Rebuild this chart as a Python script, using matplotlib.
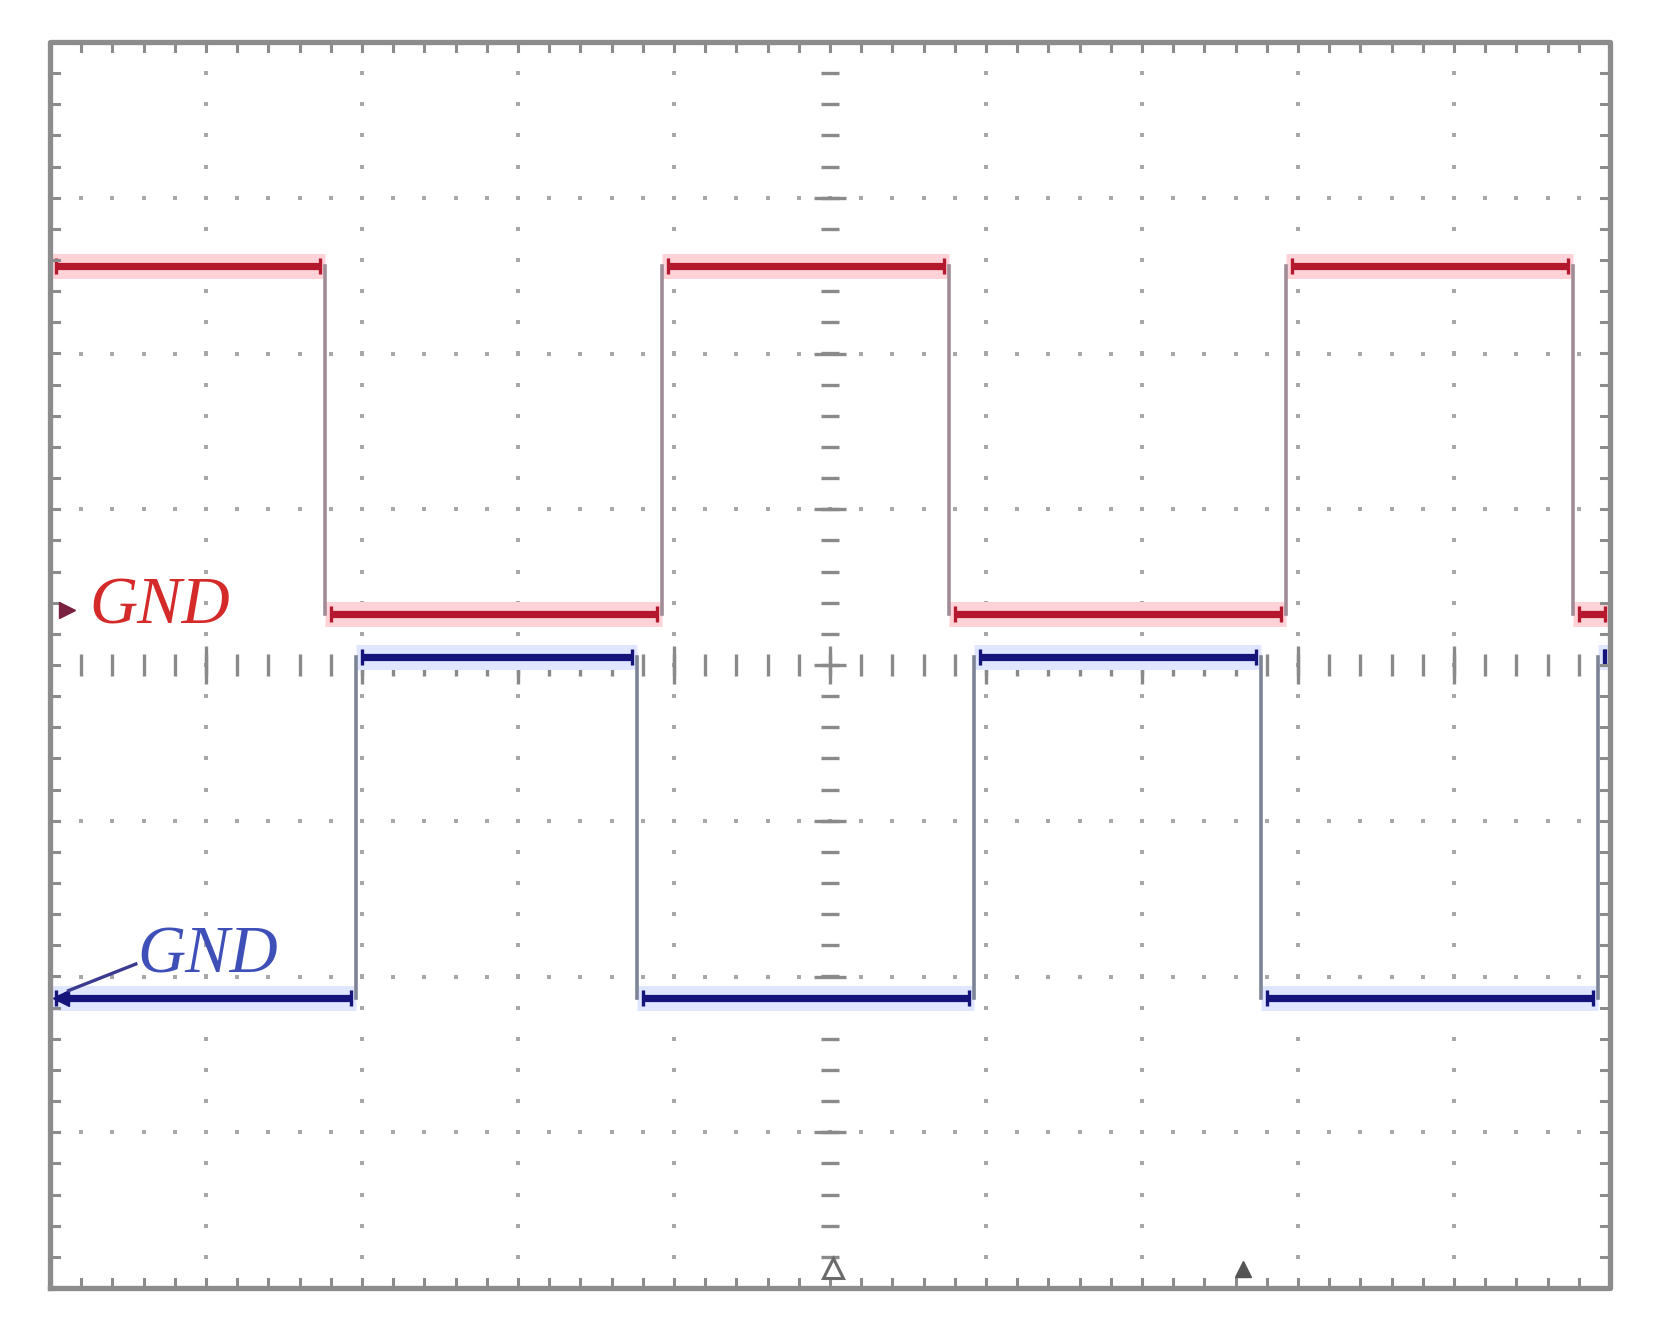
import numpy as np
import matplotlib
matplotlib.use("Agg")
import matplotlib.pyplot as plt

# ---- data (in screen divisions) ----
red_edges = [1.76, 3.92, 5.76, 7.92, 9.76]
red_levels = [2.56, 0.33]          # high, low
red_start_high = True
blue_edges = [1.96, 3.76, 5.92, 7.76, 9.92]
blue_levels = [0.05, -2.14]        # high, low
blue_start_high = False
gnd_labels = ["GND", "GND"]

X0, X1, Y0, Y1 = 0.0, 10.0, -4.0, 4.0

W, H = 1662, 1334
fig = plt.figure(figsize=(W / 100, H / 100), dpi=100)
fig.patch.set_facecolor("white")
ax = fig.add_axes([50 / W, (H - 1288) / H, 1560 / W, 1246 / H])
ax.set_xlim(X0, X1)
ax.set_ylim(Y0, Y1)
ax.axis("off")

grid_c = "#a8a8a8"
minor = np.arange(0, 10.001, 0.2)
minor_y = np.arange(-4, 4.001, 0.2)

# dotted grid
for gx in range(1, 10):
    if gx == 5:
        continue
    ax.scatter(np.full(minor_y.size, gx), minor_y, s=11, marker="s", color=grid_c, lw=0, zorder=1)
for gy in range(-3, 4):
    if gy == 0:
        continue
    ax.scatter(minor, np.full(minor.size, gy), s=11, marker="s", color=grid_c, lw=0, zorder=1)

# centre cross with ticks
for yy in minor_y:
    ax.plot([4.94, 5.06], [yy, yy], color="#8a8a8a", lw=2.4, solid_capstyle="butt", zorder=1)
for xx in minor:
    ax.plot([xx, xx], [-0.07, 0.07], color="#8a8a8a", lw=2.4, solid_capstyle="butt", zorder=1)
for gy in range(-4, 5):
    ax.plot([4.9, 5.1], [gy, gy], color="#8a8a8a", lw=2.4, solid_capstyle="butt", zorder=1)
for gx in range(0, 11):
    ax.plot([gx, gx], [-0.12, 0.12], color="#8a8a8a", lw=2.4, solid_capstyle="butt", zorder=1)

# frame with ticks
ax.plot([X0, X1, X1, X0, X0], [Y0, Y0, Y1, Y1, Y0], color="#8c8c8c", lw=3.8, zorder=5, clip_on=False)
for xx in minor:
    ax.plot([xx, xx], [Y1, Y1 - 0.06], color="#8c8c8c", lw=2.2, zorder=5)
    ax.plot([xx, xx], [Y0, Y0 + 0.06], color="#8c8c8c", lw=2.2, zorder=5)
for yy in minor_y:
    ax.plot([X0, X0 + 0.06], [yy, yy], color="#8c8c8c", lw=2.2, zorder=5)
    ax.plot([X1, X1 - 0.06], [yy, yy], color="#8c8c8c", lw=2.2, zorder=5)


def draw_trace(edges, levels, start_high, core, halo, edge_c):
    bounds = [X0] + list(edges) + [X1]
    high = start_high
    for i in range(len(bounds) - 1):
        a, b = bounds[i], bounds[i + 1]
        lvl = levels[0] if high else levels[1]
        ax.plot([a, b], [lvl, lvl], color=halo, lw=18, solid_capstyle="butt", zorder=3)
        ax.plot([a + 0.04, b - 0.03], [lvl, lvl], color=core, lw=5.2, solid_capstyle="butt", zorder=4)
        ax.plot([a + 0.04, b - 0.03], [lvl, lvl], ls="none", marker="|", ms=11, mew=2.4,
                color=core, zorder=4)
        high = not high
    for e in edges:
        ax.plot([e, e], [levels[1], levels[0]], color=edge_c, lw=2.6, zorder=3)


draw_trace(red_edges, red_levels, red_start_high, "#b3182c", "#ffd2d8", "#a08c96")
draw_trace(blue_edges, blue_levels, blue_start_high, "#14147a", "#e0e6ff", "#7c8496")

# GND markers and labels
ax.plot([0.11], [red_levels[1] + 0.02], marker=">", ms=11, color="#7a2040", zorder=6)
ax.text(0.25, red_levels[1] + 0.04, gnd_labels[0], color="#d42a2a", fontsize=48,
        family="Liberation Serif", style="italic", va="center", ha="left", zorder=6)

ax.plot([0.07], [blue_levels[1]], marker="<", ms=11, color="#14147a", zorder=6)
ax.plot([0.12, 0.55], [blue_levels[1] + 0.05, blue_levels[1] + 0.22], color="#3a3a90", lw=2.4, zorder=6)
ax.text(0.56, blue_levels[1] + 0.27, gnd_labels[1], color="#3f4fb8", fontsize=48,
        family="Liberation Serif", style="italic", va="center", ha="left", zorder=6)

# bottom trigger markers
ax.plot([5.02], [-3.87], marker="^", ms=14, mfc="none", mec="#6a6a6a", mew=2.2, zorder=6)
ax.plot([7.65], [-3.88], marker="^", ms=11, color="#555555", zorder=6)

fig.savefig("out.png", dpi=100, facecolor="white")
